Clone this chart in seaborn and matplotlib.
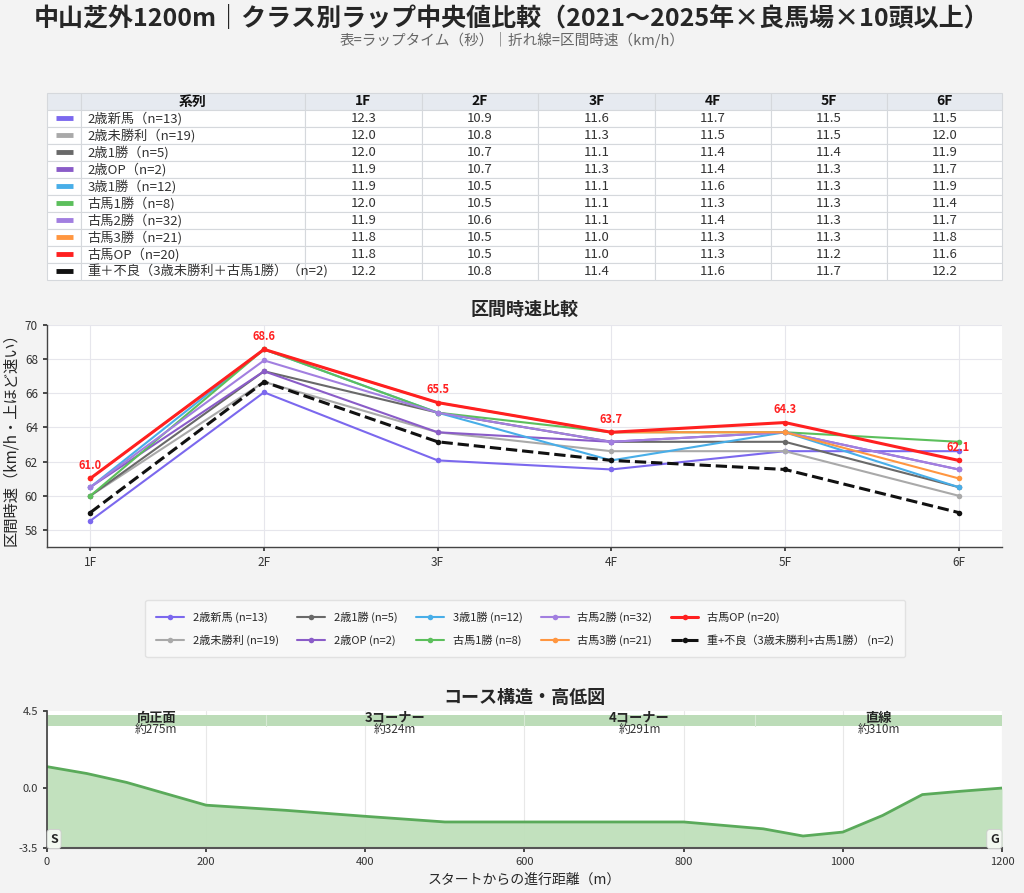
import seaborn as sns
import numpy as np
import pandas as pd
import matplotlib.pyplot as plt

# ラップ中央値（秒）
furlongs = ['1F', '2F', '3F', '4F', '5F', '6F']
series = ['2歳新馬（n=13)', '2歳未勝利（n=19)', '2歳1勝（n=5)', '2歳OP（n=2)', '3歳1勝（n=12)',
          '古馬1勝（n=8)', '古馬2勝（n=32)', '古馬3勝（n=21)', '古馬OP（n=20)',
          '重＋不良（3歳未勝利＋古馬1勝）（n=2)']
legend_names = ['2歳新馬 (n=13)', '2歳未勝利 (n=19)', '2歳1勝 (n=5)', '2歳OP (n=2)', '3歳1勝 (n=12)',
                '古馬1勝 (n=8)', '古馬2勝 (n=32)', '古馬3勝 (n=21)', '古馬OP (n=20)',
                '重+不良（3歳未勝利+古馬1勝） (n=2)']
laps = [
    [12.3, 10.9, 11.6, 11.7, 11.5, 11.5],
    [12.0, 10.8, 11.3, 11.5, 11.5, 12.0],
    [12.0, 10.7, 11.1, 11.4, 11.4, 11.9],
    [11.9, 10.7, 11.3, 11.4, 11.3, 11.7],
    [11.9, 10.5, 11.1, 11.6, 11.3, 11.9],
    [12.0, 10.5, 11.1, 11.3, 11.3, 11.4],
    [11.9, 10.6, 11.1, 11.4, 11.3, 11.7],
    [11.8, 10.5, 11.0, 11.3, 11.3, 11.8],
    [11.8, 10.5, 11.0, 11.3, 11.2, 11.6],
    [12.2, 10.8, 11.4, 11.6, 11.7, 12.2],
]
colors = ['#7B68EE', '#A9A9A9', '#696969', '#8A5CC8', '#48AEE8',
          '#5CBF5C', '#A27FE0', '#FF9640', '#FF2020', '#111111']

# コース高低（m）
dist = [0, 50, 100, 200, 300, 400, 500, 600, 700, 800, 900, 950, 1000, 1050, 1100, 1150, 1200]
elev = [1.25, 0.85, 0.33, -1.0, -1.3, -1.65, -1.98, -1.98, -1.98, -1.98, -2.38, -2.8, -2.57, -1.6, -0.38, -0.18, 0.0]
sections = ['向正面', '3コーナー', '4コーナー', '直線']
sec_start = [0, 275, 599, 890]
sec_end = [275, 599, 890, 1200]
sec_len = ['約275m', '約324m', '約291m', '約310m']

sns.set_theme(style='whitegrid')
plt.rcParams['font.family'] = ['Noto Sans CJK JP', 'DejaVu Sans']
plt.rcParams['axes.unicode_minus'] = False

fig = plt.figure(figsize=(10.24, 8.93), dpi=100, facecolor='#f3f3f3')
fig.text(0.5, 0.9795, '中山芝外1200m｜クラス別ラップ中央値比較（2021〜2025年×良馬場×10頭以上）',
         ha='center', va='center', fontsize=18, fontweight='bold')
fig.text(0.5, 0.9555, '表=ラップタイム（秒）｜折れ線=区間時速（km/h）',
         ha='center', va='center', fontsize=10.5, color='#666666')

# ---- table ----
tax = fig.add_axes([0.0459, 0.6865, 0.9326, 0.2094])
tax.axis('off')
cell_text = [['', ''] + ['%.1f' % v for v in row] for row in laps]
col_w = np.array([34, 224, 117, 116, 117, 116, 116, 115], dtype=float)
col_w = col_w / col_w.sum()
tbl = tax.table(cellText=cell_text, colLabels=['', '系列'] + furlongs, bbox=[0, 0, 1, 1],
                cellLoc='center', colWidths=list(col_w))
tbl.auto_set_font_size(False)
for (r, c), cell in tbl.get_celld().items():
    cell.set_edgecolor('#d5d8dc')
    cell.set_linewidth(0.8)
    cell.get_text().set_fontsize(9.5)
    cell.get_text().set_color('#333333')
    if r == 0:
        cell.set_facecolor('#e6eaf0')
        cell.get_text().set_fontweight('bold')
        cell.get_text().set_fontsize(10)
        cell.get_text().set_color('#111111')
    else:
        cell.set_facecolor('white')
nrow = len(series) + 1
x0, x1 = col_w[0] * 0.25, col_w[0] * 0.75
for i, (s, col) in enumerate(zip(series, colors)):
    yc = 1 - (i + 1.5) / nrow
    tax.plot([x0, x1], [yc, yc], color=col, lw=3.5, transform=tax.transAxes, solid_capstyle='butt')
    tax.text(col_w[0] + 0.007, yc, s, transform=tax.transAxes, ha='left', va='center',
             fontsize=9.5, color='#333333', zorder=5)

# ---- speed line chart ----
ax = fig.add_axes([0.0459, 0.3875, 0.9326, 0.2486])
ax.set_facecolor('white')
rows = []
for s, row in zip(series, laps):
    for f, v in zip(furlongs, row):
        rows.append({'series': s, 'F': f, 'speed': 720.0 / v})
df = pd.DataFrame(rows)
for i, s in enumerate(series):
    d = df[df.series == s]
    lw, ls = 1.5, '-'
    if i == 8:
        lw = 2.2
    if i == 9:
        lw, ls = 2.2, '--'
    sns.lineplot(data=d, x='F', y='speed', ax=ax, color=colors[i], lw=lw, linestyle=ls,
                 marker='o', markersize=4, markeredgewidth=0, sort=False, label=legend_names[i])
    if i == 8:
        for j, v in enumerate(d.speed):
            ax.annotate('%.1f' % v, (j, v), xytext=(0, 7), textcoords='offset points',
                        ha='center', fontsize=8, color='#FF2020', fontweight='bold')
h, l = ax.get_legend_handles_labels()
ax.legend().remove()
ax.set_xlim(-0.25, 5.25)
ax.set_ylim(57, 70)
ax.set_yticks([58, 60, 62, 64, 66, 68, 70])
ax.set_xlabel('')
ax.set_ylabel('区間時速（km/h・上ほど速い）', fontsize=11)
ax.set_title('区間時速比較', fontsize=13, fontweight='bold', pad=7)
ax.tick_params(labelsize=8.5, length=3, left=True, bottom=True, colors='#333333')
ax.grid(color='#e6e6ec', lw=0.8)
for sp in ['top', 'right']:
    ax.spines[sp].set_visible(False)
for sp in ['left', 'bottom']:
    ax.spines[sp].set_color('#444444')
    ax.spines[sp].set_linewidth(1)
fig.legend(h, l, loc='center', bbox_to_anchor=(0.513, 0.296), ncol=5, fontsize=8,
           frameon=True, facecolor='#fafafa', edgecolor='#dddddd', handlelength=2.5,
           columnspacing=1.65, borderpad=1.0, labelspacing=1.1)

# ---- elevation ----
ex = fig.add_axes([0.0459, 0.0504, 0.9326, 0.1534])
ex.set_facecolor('white')
prof = pd.DataFrame({'dist': dist, 'elev': elev})
ex.fill_between(prof.dist, prof.elev, -3.5, color='#bfe0bb', alpha=0.95, lw=0)
sns.lineplot(data=prof, x='dist', y='elev', ax=ex, color='#5aaa5a', lw=2)
for s0, s1, name, ln in zip(sec_start, sec_end, sections, sec_len):
    ex.fill_between([s0, s1], 3.65, 4.25, color='#bcdcb8', lw=0)
    ex.axvline(s0, ymin=(3.65 + 3.5) / 8, ymax=(4.25 + 3.5) / 8, color='#d8ead5', lw=0.8)
    xc = (s0 + s1) / 2
    ex.text(xc, 4.12, name, ha='center', va='center', fontsize=9.5, fontweight='bold')
    ex.text(xc, 3.38, ln, ha='center', va='center', fontsize=8.5, color='#333333')
bb = dict(boxstyle='round,pad=0.25', fc='#f2f8f0', ec='#cccccc', lw=0.6)
ex.text(4, -2.98, 'S', ha='left', va='center', fontsize=9, fontweight='bold', bbox=bb)
ex.text(1196, -2.98, 'G', ha='right', va='center', fontsize=9, fontweight='bold', bbox=bb)
ex.set_xlim(0, 1200)
ex.set_ylim(-3.5, 4.5)
ex.set_yticks([-3.5, 0.0, 4.5])
ex.set_yticklabels(['-3.5', '0.0', '4.5'])
ex.set_xticks([0, 200, 400, 600, 800, 1000, 1200])
ex.set_xlabel('スタートからの進行距離（m）', fontsize=10)
ex.set_ylabel('')
ex.set_title('コース構造・高低図', fontsize=13, fontweight='bold', pad=6)
ex.grid(axis='y', visible=False)
ex.grid(axis='x', color='#e8e8e8', lw=0.8)
ex.tick_params(labelsize=8, length=3, left=True, bottom=True, colors='#333333')
for sp in ['top', 'right']:
    ex.spines[sp].set_visible(False)
ex.spines['left'].set_color('#444444')
ex.spines['bottom'].set_color('#555555')
ex.spines['bottom'].set_linewidth(1.5)

fig.savefig('out.png', dpi=100, facecolor=fig.get_facecolor())
